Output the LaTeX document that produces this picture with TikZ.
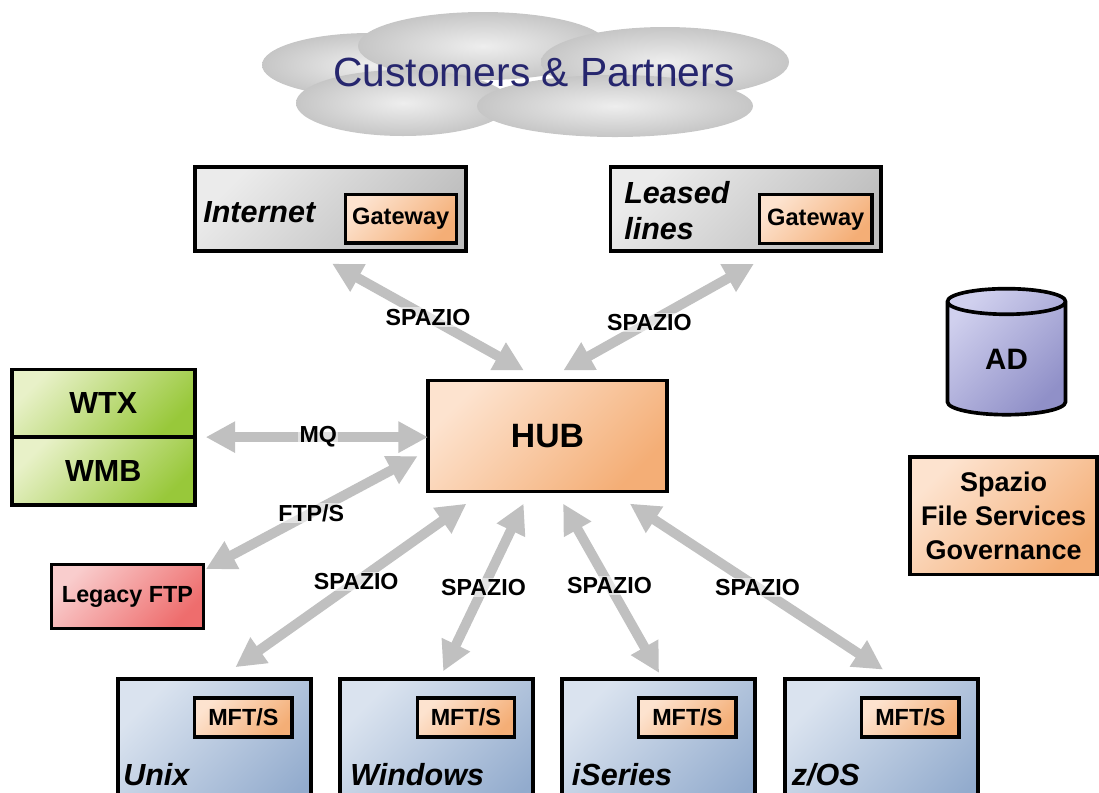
\documentclass[tikz,border=0pt]{standalone}
\usepackage{fontspec}
\setmainfont{Liberation Sans}
\usetikzlibrary{arrows.meta,positioning,shapes.geometric}

\definecolor{custblue}{HTML}{26266E}
\definecolor{linkgray}{HTML}{C0C0C0}
\definecolor{cloudA}{HTML}{EEEEEE}
\definecolor{cloudB}{HTML}{C6C6C6}
\definecolor{netA}{HTML}{EBEBEB}
\definecolor{netB}{HTML}{BDBDBD}
\definecolor{orA}{HTML}{FDE3CF}
\definecolor{orB}{HTML}{F4AE76}
\definecolor{grA}{HTML}{E8F1C8}
\definecolor{grB}{HTML}{98C83A}
\definecolor{rdA}{HTML}{F9CDCD}
\definecolor{rdB}{HTML}{EE6D6D}
\definecolor{adA}{HTML}{D0D0EE}
\definecolor{adB}{HTML}{9090C8}
\definecolor{osA}{HTML}{DAE3EF}
\definecolor{osB}{HTML}{92ABCD}

\begin{document}
\begin{tikzpicture}[x=0.025cm,y=-0.025cm,
   box/.style={draw=black,line width=2.6pt,inner sep=0pt,outer sep=0pt},
   netbox/.style={box,top color=netA,bottom color=netB,shading angle=45,minimum width=6.77cm,minimum height=2.1cm},
   orbox/.style={box,top color=orA,bottom color=orB,shading angle=45},
   gw/.style={orbox,line width=2.4pt,font=\bfseries\fontsize{16.8}{18}\selectfont},
   grbox/.style={box,top color=grA,bottom color=grB,shading angle=45,minimum width=4.57cm,minimum height=1.69cm,font=\bfseries\fontsize{21.7}{24}\selectfont},
   osbox/.style={box,top color=osA,bottom color=osB,shading angle=45,minimum width=4.82cm,minimum height=3.8cm},
   mft/.style={gw,minimum width=2.43cm,minimum height=0.975cm,font=\bfseries\fontsize{16.6}{18}\selectfont},
   nettxt/.style={font=\bfseries\itshape\fontsize{21.7}{25.6}\selectfont,inner sep=0pt},
   link/.style={draw=linkgray,line width=7pt,>={Triangle[length=21pt,width=21pt]},<->},
   lbl/.style={font=\bfseries\fontsize{16.5}{18}\selectfont,fill=white,fill opacity=0.55,text opacity=1,inner sep=1pt}]
  \clip (0,0) rectangle (1099,792);

  % cloud
  \shade[inner color=cloudA,outer color=cloudB] (370,65) ellipse [x radius=108,y radius=32];
  \shade[inner color=cloudA,outer color=cloudB] (483,46) ellipse [x radius=125,y radius=34];
  \shade[inner color=cloudA,outer color=cloudB] (665,62) ellipse [x radius=124,y radius=35];
  \shade[inner color=cloudA,outer color=cloudB] (403,103) ellipse [x radius=107,y radius=33];
  \shade[inner color=cloudA,outer color=cloudB] (615,106) ellipse [x radius=138,y radius=31];
  \node[font=\fontsize{29}{32}\selectfont,text=custblue] (cust) at (534,72) {Customers \& Partners};

  % networks
  \node[netbox] (inet) at (330.3,209.2) {};
  \node[nettxt,anchor=base west] (inett) at (203,222) {Internet};
  \node[gw,minimum width=2.78cm,minimum height=1.22cm] (gw1) at (400.8,218.7) {Gateway};
  \node[netbox] (leased) at (745.8,209.2) {};
  \node[nettxt,align=left,anchor=west] (leasedt) at (624,210.5) {Leased\\lines};
  \node[gw,minimum width=2.82cm,minimum height=1.22cm] (gw2) at (815.7,219.2) {Gateway};

  % hub and systems
  \node[orbox,minimum width=5.98cm,minimum height=2.78cm,font=\bfseries\fontsize{24}{26}\selectfont] (hub) at (547.5,436) {HUB};
  \node[grbox] (wtx) at (103.3,403.3) {WTX};
  \node[grbox] (wmb) [below=0pt of wtx] {WMB};
  \node[box,top color=rdA,bottom color=rdB,shading angle=45,minimum width=3.8cm,minimum height=1.6cm,font=\bfseries\fontsize{16.6}{18}\selectfont] (legacy) at (127.5,596.5) {Legacy FTP};
  \node[cylinder,shape border rotate=90,aspect=0.6,box,top color=adA,bottom color=adB,shading angle=45,minimum width=2.95cm,minimum height=3.15cm,font=\bfseries\fontsize{21}{24}\selectfont] (ad) at (1006.5,359) {\raisebox{-7pt}{AD}};
  \node[orbox,align=center,minimum width=4.67cm,minimum height=2.94cm,font=\bfseries\fontsize{19.2}{24}\selectfont] (gov) at (1003.7,515.8) {Spazio\\File Services\\Governance};

  % platforms
  \node[osbox] (unix) at (214.3,755.3) {};
  \node[mft] (mft1) at (243.3,717.5) {MFT/S};
  \node[nettxt,anchor=base west] (unixt) at (123,785) {Unix};
  \node[osbox] (win) at (436.7,755.3) {};
  \node[mft] (mft2) at (465.8,717.5) {MFT/S};
  \node[nettxt,anchor=base west] (wint) at (350,785) {Windows};
  \node[osbox] (iser) at (658.7,755.3) {};
  \node[mft] (mft3) at (687.3,717.5) {MFT/S};
  \node[nettxt,anchor=base west] (isert) at (571.7,785) {iSeries};
  \node[osbox] (zos) at (881.7,755.3) {};
  \node[mft] (mft4) at (910.3,717.5) {MFT/S};
  \node[nettxt,anchor=base west] (zost) at (791.7,785) {z/OS};

  % links
  \draw[link,shorten <=18.2pt,shorten >=14.4pt] (inet.244) -- node[lbl,pos=0.51] (spz1) {SPAZIO} (hub.96);
  \draw[link,shorten <=18.2pt,shorten >=14.4pt] (leased.306) -- node[lbl,pos=0.55] (spz2) {SPAZIO} (hub.92);
  \draw[link,shorten <=7.8pt] (wtx.south east) -- node[lbl,pos=0.53] (mq) {MQ} (hub.west |- wtx.south east);
  \draw[link,shorten <=1.9pt,shorten >=8.3pt] (legacy.19) -- node[lbl,pos=0.48] (ftps) {FTP/S} (hub.187);
  \draw[link,shorten <=14.9pt,shorten >=14.9pt] (unix.87) -- node[lbl,pos=0.52] (spz3) {SPAZIO} (hub.221);
  \draw[link,shorten <=6.3pt,shorten >=9.5pt] (win.88) -- node[lbl,pos=0.49] (spz4) {SPAZIO} (hub.252);
  \draw[link,shorten <=5.2pt,shorten >=9.8pt] (iser.87) -- node[lbl,pos=0.5] (spz5) {SPAZIO} (hub.279);
  \draw[link,shorten <=12.6pt,shorten >=15.6pt] (zos.78) -- node[lbl,pos=0.49] (spz6) {SPAZIO} (hub.319);
\end{tikzpicture}
\end{document}
